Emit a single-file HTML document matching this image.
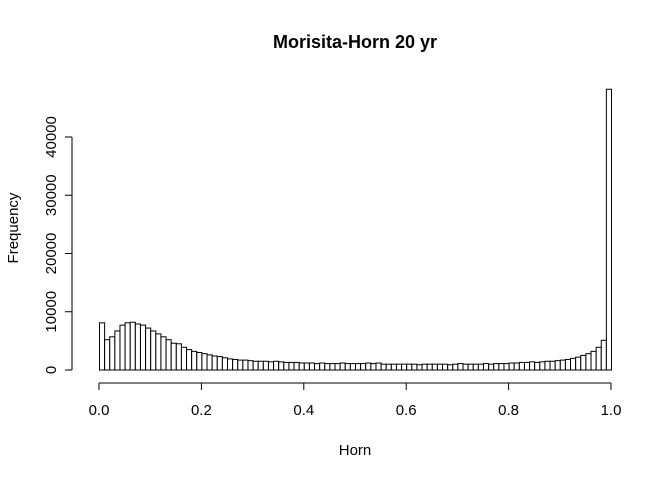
<!DOCTYPE html>
<html><head><meta charset="utf-8"><style>
html,body{margin:0;padding:0;background:#fff}
svg{display:block;font-family:"Liberation Sans",sans-serif}
</style></head><body>
<svg id="chart" width="672" height="480">
<text x="355" y="48" text-anchor="middle" font-size="18" font-weight="bold">Morisita-Horn 20 yr</text>
<text x="355" y="455" text-anchor="middle" font-size="15">Horn</text>
<text transform="translate(18,228) rotate(-90)" text-anchor="middle" font-size="15">Frequency</text>
<g id="bars"></g>
<g id="axes"></g>
</svg>
<script>
const counts = [8100,5200,5700,6700,7700,8100,8200,7900,7700,7200,
6700,6200,5700,5200,4600,4500,3900,3500,3200,3000,
2800,2600,2400,2300,2100,1900,1800,1700,1700,1600,
1500,1500,1500,1400,1500,1400,1300,1300,1300,1200,
1200,1200,1100,1200,1100,1100,1100,1200,1100,1100,
1100,1100,1200,1100,1200,1000,1000,1000,1000,1000,
1000,1000,900,1000,1000,1000,1000,1000,900,1000,
1100,1000,1000,1000,1000,1100,1000,1100,1100,1100,
1200,1200,1300,1300,1400,1300,1400,1500,1500,1600,
1700,1800,2000,2200,2500,2800,3200,3900,5100,48200];
const xTicks = [0,0.2,0.4,0.6,0.8,1.0];
const xTickLabels = ["0.0","0.2","0.4","0.6","0.8","1.0"];
const yTicks = [0,10000,20000,30000,40000];
const binWidth = 0.01;

const NS = "http://www.w3.org/2000/svg";
const xs = v => 99 + v * 512;
const ys = v => 370 - v * (233 / 40000);
const bars = document.getElementById('bars');
const axes = document.getElementById('axes');
function mk(tag, attrs, parent) {
  const e = document.createElementNS(NS, tag);
  for (const k in attrs) e.setAttribute(k, attrs[k]);
  parent.appendChild(e);
  return e;
}
counts.forEach((c, i) => {
  const x0 = xs(i * binWidth), x1 = xs((i + 1) * binWidth);
  const r = mk('rect', {x: x0 + 0.5, y: ys(c), width: x1 - x0, height: ys(0) - ys(c), fill: '#fff', stroke: '#000', 'stroke-width': 1}, bars);
  
  
});
const xl = mk('line', {x1: xs(0), x2: xs(1), y1: 383, y2: 383, stroke: '#000'}, axes);


xTicks.forEach((t, i) => {
  const tk = mk('line', {x1: xs(t), x2: xs(t), y1: 383, y2: 390, stroke: '#000'}, axes);
  
  
  const tx = mk('text', {x: xs(t), y: 415, 'text-anchor': 'middle', 'font-size': 15}, axes);
  tx.textContent = xTickLabels[i];
  
  
});
const yl = mk('line', {x1: 72, x2: 72, y1: ys(0), y2: ys(40000), stroke: '#000'}, axes);


yTicks.forEach(t => {
  const tk = mk('line', {x1: 65, x2: 72, y1: ys(t), y2: ys(t), stroke: '#000'}, axes);
  
  
  const tx = mk('text', {transform: `translate(56,${ys(t)}) rotate(-90)`, 'text-anchor': 'middle', 'font-size': 15}, axes);
  tx.textContent = String(t);
  
  
});
</script>
</body></html>
